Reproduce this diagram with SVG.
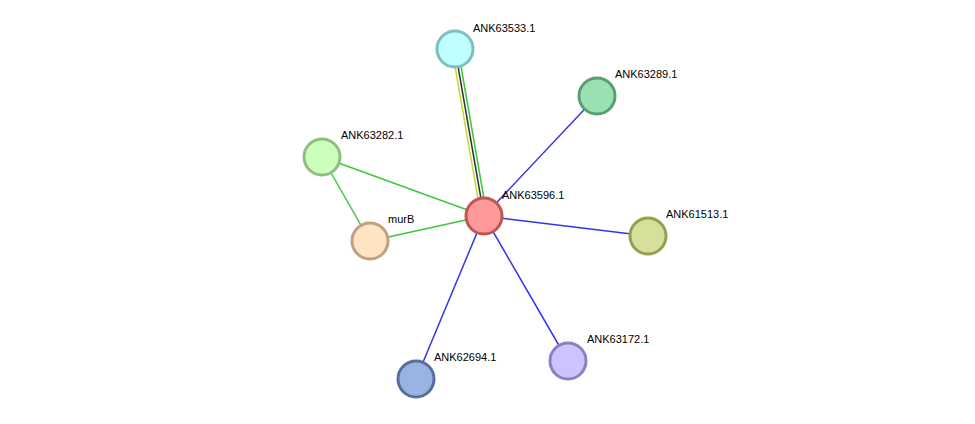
<svg xmlns="http://www.w3.org/2000/svg" width="975" height="424" viewBox="0 0 975 424">
<style>
circle{stroke-width:3}
text{font-family:"Liberation Sans",Arial,sans-serif;font-size:11px;fill:#000}
line{stroke-width:1.5}
</style>
<rect width="975" height="424" fill="#fff"/>
<g id="edges">
<line x1="452" y1="49" x2="481" y2="216" stroke="#c8d838"/>
<line x1="455" y1="49" x2="484" y2="216" stroke="#333"/>
<line x1="458" y1="49" x2="487" y2="216" stroke="#3cc83c"/>
<line x1="322" y1="157" x2="484" y2="216" stroke="#3cc83c"/>
<line x1="322" y1="157" x2="370" y2="241" stroke="#3cc83c"/>
<line x1="370" y1="241" x2="484" y2="216" stroke="#3cc83c"/>
<line x1="597" y1="96" x2="484" y2="216" stroke="#3333ee"/>
<line x1="648" y1="236" x2="484" y2="216" stroke="#3333ee"/>
<line x1="568" y1="361" x2="484" y2="216" stroke="#3333ee"/>
<line x1="416" y1="379" x2="484" y2="216" stroke="#3333ee"/>
</g>
<g id="ANK63533.1"><circle cx="455" cy="49" r="18" fill="#bfffff" stroke="#7fbfbf"/><text x="473" y="32">ANK63533.1</text></g>
<g id="ANK63289.1"><circle cx="597" cy="96" r="18" fill="#99e0b3" stroke="#5a9e72"/><text x="615" y="78">ANK63289.1</text></g>
<g id="ANK63282.1"><circle cx="322" cy="157" r="18" fill="#ccffbb" stroke="#8fbf80"/><text x="341" y="139">ANK63282.1</text></g>
<g id="ANK63596.1"><circle cx="484" cy="216" r="18" fill="#ff9999" stroke="#bf5555"/><text x="502" y="199">ANK63596.1</text></g>
<g id="murB"><circle cx="370" cy="241" r="18" fill="#ffe4c4" stroke="#bfa07f"/><text x="388" y="223">murB</text></g>
<g id="ANK61513.1"><circle cx="648" cy="236" r="18" fill="#d6e09b" stroke="#969e50"/><text x="666" y="218">ANK61513.1</text></g>
<g id="ANK63172.1"><circle cx="568" cy="361" r="18" fill="#ccc4ff" stroke="#8c80c0"/><text x="587" y="343">ANK63172.1</text></g>
<g id="ANK62694.1"><circle cx="416" cy="379" r="18" fill="#9ab3e0" stroke="#55709e"/><text x="434" y="361">ANK62694.1</text></g>
</svg>
